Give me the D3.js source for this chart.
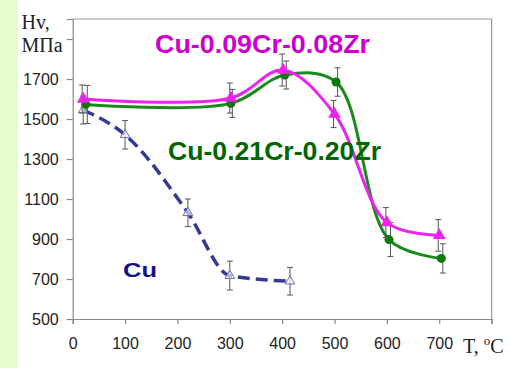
<!DOCTYPE html>
<html>
<head>
<meta charset="utf-8">
<script src="https://cdn.jsdelivr.net/npm/d3@7"></script>
<style>
  body { margin: 0; background: #fff; }
  svg { display: block; }
  .tick text { font-family: "Liberation Sans", Arial, sans-serif; font-size: 16px; fill: #222; }
</style>
</head>
<body>
<svg id="chart" width="510" height="368"></svg>
<script>
// temperature (C), hardness Hv (MPa), error half-width
const pinkT   = [20, 302, 402, 500, 600, 700];
const pinkHv  = [1600, 1605, 1745, 1525, 982, 918];
const pinkErr = [70, 75, 80, 68, 75, 79];

const greenT   = [25, 302, 405, 503, 604, 704];
const greenHv  = [1573, 1578, 1720, 1685, 897, 803];
const greenErr = [95, 70, 70, 71, 85, 73];

const cuT   = [20, 100, 220, 300, 415];
const cuHv  = [1545, 1421, 1031, 717, 689];
const cuErr = [70, 71, 69, 72, 69];

const xTicks = [0, 100, 200, 300, 400, 500, 600, 700, 800];
const yTicks = [500, 700, 900, 1100, 1300, 1500, 1700, 1900];

const svg = d3.select("svg#chart");

// light green strip on the left
svg.append("rect").attr("x", 0).attr("y", 0).attr("width", 18).attr("height", 368).attr("fill", "#e4fccc");

const plotL = 72.7, plotR = 491.6, plotT = 19, plotB = 319;
const x = d3.scaleLinear().domain([0, 800]).range([plotL, plotR]);
const y = d3.scaleLinear().domain([500, 2000]).range([plotB, plotT]);

// frame (top + right)
svg.append("path")
  .attr("d", `M${plotL},${plotT}H${plotR}V${plotB}`)
  .attr("fill", "none").attr("stroke", "#999").attr("stroke-width", 1.2);

const xAxis = svg.append("g").attr("transform", "translate(0," + plotB + ")")
  .call(d3.axisBottom(x).tickValues(xTicks).tickSize(5).tickPadding(14)
    .tickFormat(d => d === 800 ? "" : d));
const yAxis = svg.append("g").attr("transform", "translate(" + plotL + ",0)")
  .call(d3.axisLeft(y).tickValues(yTicks).tickSize(6).tickPadding(8)
    .tickFormat(d => d === 1900 ? "" : d));
[xAxis, yAxis].forEach(a => {
  a.select(".domain").attr("stroke", "#888").attr("stroke-width", 1.2);
  a.selectAll(".tick line").attr("stroke", "#888").attr("stroke-width", 1.2);
});

// axis titles (serif)
const serif = '"Liberation Serif", "Times New Roman", serif';
svg.append("text").attr("x", 21.5).attr("y", 29).attr("font-family", serif).attr("font-size", 20).attr("fill", "#222").text("Hv,");
svg.append("text").attr("x", 21.5).attr("y", 52).attr("font-family", serif).attr("font-size", 20).attr("fill", "#222").text("МПа");
const tl = svg.append("text").attr("x", 463).attr("y", 353).attr("font-family", serif).attr("font-size", 20).attr("fill", "#222");
tl.append("tspan").text("T, ");
tl.append("tspan").attr("dy", -8).attr("font-size", 13).text("o");
tl.append("tspan").attr("dy", 8).text("C");

function zip(ts, vs, es) { return ts.map((t, i) => ({t: t, v: vs[i], e: es[i]})); }
const pink = zip(pinkT, pinkHv, pinkErr);
const green = zip(greenT, greenHv, greenErr);
const cu = zip(cuT, cuHv, cuErr);

const line = d3.line().x(d => x(d.t)).y(d => y(d.v)).curve(d3.curveCatmullRom.alpha(0.5));
const cuLine = d3.line().x(d => x(d.t)).y(d => y(d.v)).curve(d3.curveMonotoneX);

// error bars
function errBars(data, dx) {
  const g = svg.append("g").attr("stroke", "#555").attr("stroke-width", 1).attr("fill", "none");
  data.forEach(d => {
    const cx = x(d.t) + dx;
    g.append("line").attr("x1", cx).attr("x2", cx).attr("y1", y(d.v - d.e)).attr("y2", y(d.v + d.e));
    g.append("line").attr("x1", cx - 3).attr("x2", cx + 3).attr("y1", y(d.v - d.e)).attr("y2", y(d.v - d.e));
    g.append("line").attr("x1", cx - 3).attr("x2", cx + 3).attr("y1", y(d.v + d.e)).attr("y2", y(d.v + d.e));
  });
}

// Cu
svg.append("path").datum(cu).attr("d", cuLine).attr("fill", "none")
  .attr("stroke", "#333a90").attr("stroke-width", 3.5).attr("stroke-dasharray", "12,6");
errBars(cu, 0);
svg.append("g").selectAll("path").data(cu).join("path")
  .attr("d", d3.symbol(d3.symbolTriangle, 40))
  .attr("transform", d => `translate(${x(d.t)},${y(d.v)})`)
  .attr("fill", "#fff").attr("fill-opacity", 0.6).attr("stroke", "#6670b0").attr("stroke-width", 1);

// green
svg.append("path").datum(green).attr("d", line).attr("fill", "none")
  .attr("stroke", "#1a8a1a").attr("stroke-width", 3);
errBars(green, 1.5);
svg.append("g").selectAll("circle").data(green).join("circle")
  .attr("cx", d => x(d.t)).attr("cy", d => y(d.v)).attr("r", 4.5).attr("fill", "#0b7a0b");

// pink
svg.append("path").datum(pink).attr("d", line).attr("fill", "none")
  .attr("stroke", "#ee22ee").attr("stroke-width", 3);
errBars(pink, -1);
svg.append("g").selectAll("path").data(pink).join("path")
  .attr("d", d3.symbol(d3.symbolTriangle, 70))
  .attr("transform", d => `translate(${x(d.t)},${y(d.v)})`)
  .attr("fill", "#ee22ee");

// series labels
const sans = '"Liberation Sans", Arial, sans-serif';
function label(txt, x0, yb, w, size, color) {
  svg.append("text").attr("x", x0).attr("y", yb).attr("font-family", sans).attr("font-weight", "bold")
    .attr("font-size", size).attr("fill", color)
    .attr("textLength", w).attr("lengthAdjust", "spacingAndGlyphs").text(txt);
}
label("Cu-0.09Cr-0.08Zr", 155, 53, 215, 25, "#cc00cc");
label("Cu-0.21Cr-0.20Zr", 168, 160, 213, 25, "#006600");
label("Cu", 123, 277, 34, 21, "#10108c");
</script>
</body>
</html>
